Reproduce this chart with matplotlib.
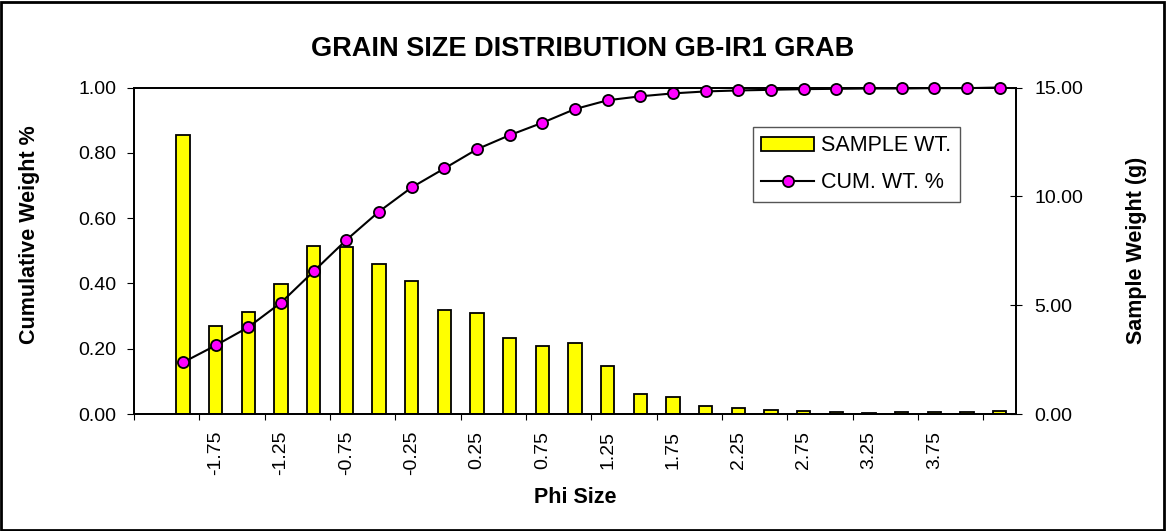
import matplotlib
matplotlib.use("Agg")
import matplotlib.pyplot as plt
import numpy as np
from matplotlib.patches import Rectangle
from matplotlib.ticker import FormatStrFormatter, FixedLocator

plt.rcParams['font.family'] = ['Liberation Sans', 'DejaVu Sans']

# categorias (tamaño phi); la primera y la última no llevan etiqueta
phi_sizes = ["", "-2.00", "-1.75", "-1.50", "-1.25", "-1.00", "-0.75", "-0.50",
             "-0.25", "0.00", "0.25", "0.50", "0.75", "1.00", "1.25", "1.50",
             "1.75", "2.00", "2.25", "2.50", "2.75", "3.00", "3.25", "3.50",
             "3.75", "4.00", ""]

# peso de muestra (g), desde la categoría 1
sample_wt = [12.81, 4.03, 4.69, 5.98, 7.73, 7.68, 6.90, 6.12, 4.76, 4.63,
             3.47, 3.11, 3.28, 2.22, 0.91, 0.80, 0.38, 0.28, 0.20, 0.13,
             0.10, 0.06, 0.07, 0.07, 0.08, 0.12]

# peso acumulado
cum_wt = [0.158, 0.210, 0.266, 0.341, 0.437, 0.533, 0.620, 0.694, 0.752, 0.811,
          0.854, 0.892, 0.934, 0.961, 0.973, 0.982, 0.988, 0.991, 0.993, 0.995,
          0.996, 0.997, 0.997, 0.998, 0.998, 1.000]

x = np.arange(1, len(sample_wt) + 1)
n_cat = len(phi_sizes)

fig = plt.figure(figsize=(11.66, 5.31), dpi=100)
ax_bar = fig.add_axes([0.1149, 0.2203, 0.8714 - 0.1149, 0.8352 - 0.2203])
ax_line = ax_bar.twinx()

# barras (eje derecho)
bars = ax_bar.bar(x, sample_wt, width=0.41, color='#FFFF00', edgecolor='black',
                  linewidth=1.3, label='SAMPLE WT.', zorder=2)
ax_bar.set_ylim(0, 15)
ax_bar.set_xlim(-0.5, n_cat - 0.5)
ax_bar.yaxis.tick_right()
ax_bar.yaxis.set_label_position('right')
ax_bar.set_yticks([0, 5, 10, 15])
ax_bar.yaxis.set_major_formatter(FormatStrFormatter('%.2f'))
ax_bar.tick_params(axis='y', direction='inout', length=8.6, width=0.8,
                   labelsize=14, pad=9)
ax_bar.set_ylabel('Sample Weight (g)', fontsize=15.5, fontweight='bold')
ax_bar.yaxis.set_label_coords(1.137, 0.5)
ax_bar.yaxis.label.set_va('center')
ax_bar.yaxis.label.set_ha('center')

# eje x: etiquetas cada dos categorías, marcas entre categorías
label_pos = list(range(0, n_cat, 2))
ax_bar.xaxis.set_major_locator(FixedLocator(label_pos))
ax_bar.set_xticklabels([phi_sizes[i] for i in label_pos], rotation=90, fontsize=14)
ax_bar.tick_params(axis='x', which='major', length=0, pad=12)
ax_bar.xaxis.set_minor_locator(FixedLocator(np.arange(-0.5, n_cat - 1, 2)))
ax_bar.tick_params(axis='x', which='minor', length=4.5, width=0.8, direction='out')
ax_bar.set_xlabel('Phi Size', fontsize=15.5, fontweight='bold')
ax_bar.xaxis.set_label_coords(0.5, -0.257)
ax_bar.xaxis.label.set_va('center')

# línea acumulada (eje izquierdo)
line, = ax_line.plot(x, cum_wt, color='black', linewidth=1.5, marker='o',
                     markersize=8, markerfacecolor='#FF00FF',
                     markeredgecolor='black', markeredgewidth=1.3,
                     label='CUM. WT. %', clip_on=False, zorder=3)
ax_line.set_ylim(0, 1)
ax_line.yaxis.tick_left()
ax_line.yaxis.set_label_position('left')
ax_line.set_yticks(np.arange(0, 1.01, 0.2))
ax_line.yaxis.set_major_formatter(FormatStrFormatter('%.2f'))
ax_line.tick_params(axis='y', direction='out', length=5, width=0.8,
                    labelsize=14, pad=7.5)
ax_line.set_ylabel('Cumulative Weight %', fontsize=15.5, fontweight='bold')
ax_line.yaxis.set_label_coords(-0.119, 0.548)
ax_line.yaxis.label.set_va('center')
ax_line.yaxis.label.set_ha('center')

for a in (ax_bar, ax_line):
    for s in a.spines.values():
        s.set_linewidth(1.3)
        s.set_color('black')

fig.text(0.5, 1 - 49 / 531, 'GRAIN SIZE DISTRIBUTION GB-IR1 GRAB', fontsize=19.5,
         fontweight='bold', ha='center', va='center')

leg = ax_line.legend([bars, line], ['SAMPLE WT.', 'CUM. WT. %'],
                     loc='upper left',
                     bbox_to_anchor=(752.7 / 1166, 1 - 126.7 / 531),
                     bbox_transform=fig.transFigure, fontsize=15.5,
                     fancybox=False, framealpha=1, edgecolor='#555555',
                     handlelength=2.47, handleheight=0.6, handletextpad=0.3,
                     borderpad=0.4, labelspacing=0.75, borderaxespad=0)
leg.get_frame().set_linewidth(1.0)

# borde exterior de la figura
fig.patches.append(Rectangle((0.001, 0.002), 0.997, 0.995, transform=fig.transFigure,
                             fill=False, edgecolor='black', linewidth=2))

plt.savefig('out.png', dpi=100)
